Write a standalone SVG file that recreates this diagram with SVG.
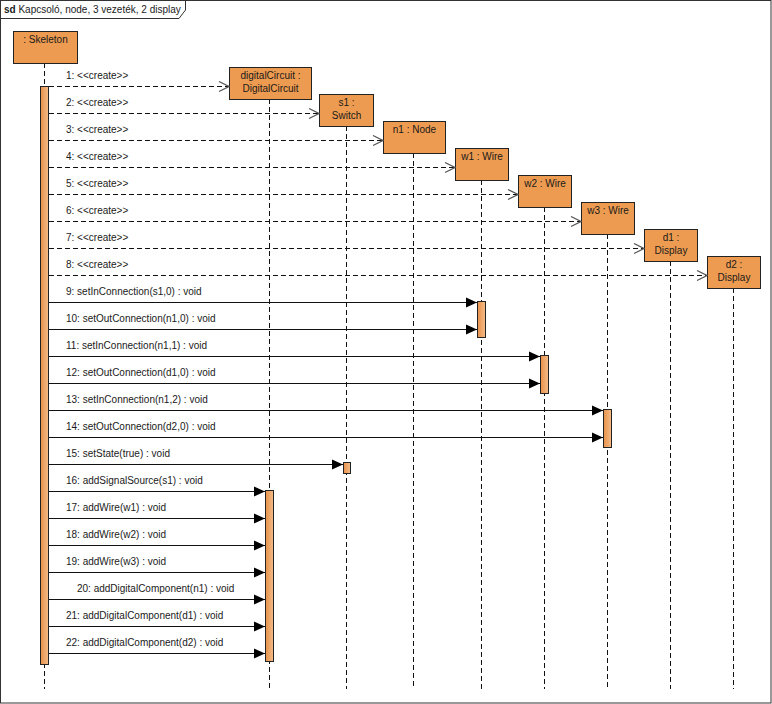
<svg xmlns="http://www.w3.org/2000/svg" width="772" height="704" viewBox="0 0 772 704">
  <style>
    text { font-family: "Liberation Sans", Arial, sans-serif; font-size: 10px; fill: #1a1a1a; }
    .box { fill: #ED9B50; stroke: #222; stroke-width: 1; }
    .bar { fill: url(#barFill); stroke: #222; stroke-width: 1; }
    .life { stroke: #111; stroke-width: 1; stroke-dasharray: 5 3; fill: none; }
    .create { stroke: #111; stroke-width: 1; stroke-dasharray: 5 3; fill: none; marker-end: url(#open); }
    .call { stroke: #111; stroke-width: 1; fill: none; marker-end: url(#filled); }
    .mid { text-anchor: middle; }
  </style>
  <defs>
    <linearGradient id="barFill" x1="0" y1="0" x2="1" y2="0">
      <stop offset="0" stop-color="#E8914A"/>
      <stop offset="1" stop-color="#F4BC88"/>
    </linearGradient>
    <marker id="open" viewBox="0 0 12 12" refX="11" refY="6" markerWidth="12" markerHeight="12" markerUnits="userSpaceOnUse" orient="auto">
      <path d="M1,1 L11,6 L1,11" fill="none" stroke="#555" stroke-width="1.2"/>
    </marker>
    <marker id="filled" viewBox="0 0 12 12" refX="11" refY="6" markerWidth="12" markerHeight="12" markerUnits="userSpaceOnUse" orient="auto">
      <path d="M0,1 L11,6 L0,11 Z" fill="#000"/>
    </marker>
  </defs>

  <rect x="0" y="0" width="772" height="704" fill="#fff"/>

  <!-- interaction frame -->
  <g id="frame">
    <rect x="0.5" y="0.5" width="770.5" height="702.5" fill="none" stroke="#333"/>
    <path d="M0.5,18.5 H179 L185.5,10 V0.5" fill="none" stroke="#333"/>
    <text x="4" y="13" style="font-size:10px"><tspan font-weight="bold">sd</tspan> Kapcsoló, node, 3 vezeték, 2 display</text>
  </g>

  <!-- lifelines -->
  <g id="lifelines">
    <line class="life" x1="44.5" y1="63" x2="44.5" y2="689"/>
    <line class="life" x1="269.5" y1="99" x2="269.5" y2="689"/>
    <line class="life" x1="346.5" y1="126" x2="346.5" y2="689"/>
    <line class="life" x1="413.5" y1="153" x2="413.5" y2="689"/>
    <line class="life" x1="481.5" y1="180" x2="481.5" y2="689"/>
    <line class="life" x1="544.5" y1="207" x2="544.5" y2="689"/>
    <line class="life" x1="607.5" y1="234" x2="607.5" y2="689"/>
    <line class="life" x1="670.5" y1="261" x2="670.5" y2="689"/>
    <line class="life" x1="733.5" y1="288" x2="733.5" y2="689"/>
  </g>

  <!-- participants -->
  <g id="skeleton">
    <rect class="box" x="13.5" y="31.5" width="64" height="32"/>
    <text class="mid" x="45.5" y="43">: Skeleton</text>
  </g>
  <g id="digitalCircuit">
    <rect class="box" x="229.5" y="67.5" width="82" height="32"/>
    <text class="mid" x="270.5" y="79">digitalCircuit :</text>
    <text class="mid" x="270.5" y="91.5">DigitalCircuit</text>
  </g>
  <g id="s1">
    <rect class="box" x="319.5" y="94.5" width="54" height="32"/>
    <text class="mid" x="346.5" y="106">s1 :</text>
    <text class="mid" x="346.5" y="118.5">Switch</text>
  </g>
  <g id="n1">
    <rect class="box" x="383.5" y="121.5" width="62" height="32"/>
    <text class="mid" x="414.5" y="133">n1 : Node</text>
  </g>
  <g id="w1">
    <rect class="box" x="455.5" y="148.5" width="53" height="32"/>
    <text class="mid" x="482" y="160">w1 : Wire</text>
  </g>
  <g id="w2">
    <rect class="box" x="518.5" y="175.5" width="53" height="32"/>
    <text class="mid" x="545" y="187">w2 : Wire</text>
  </g>
  <g id="w3">
    <rect class="box" x="581.5" y="202.5" width="53" height="32"/>
    <text class="mid" x="608" y="214">w3 : Wire</text>
  </g>
  <g id="d1">
    <rect class="box" x="644.5" y="229.5" width="53" height="32"/>
    <text class="mid" x="671" y="241">d1 :</text>
    <text class="mid" x="671" y="253.5">Display</text>
  </g>
  <g id="d2">
    <rect class="box" x="707.5" y="256.5" width="53" height="32"/>
    <text class="mid" x="734" y="268">d2 :</text>
    <text class="mid" x="734" y="280.5">Display</text>
  </g>

  <!-- activation bars -->
  <g id="activations">
    <rect class="bar" x="40.5" y="86.5" width="8" height="578"/>
    <rect class="bar" x="477.5" y="301.5" width="8" height="36"/>
    <rect class="bar" x="540.5" y="355.5" width="8" height="38"/>
    <rect class="bar" x="603.5" y="409.5" width="8" height="38"/>
    <rect class="bar" x="343.5" y="462.5" width="7" height="11"/>
    <rect class="bar" x="265.5" y="490.5" width="8" height="171"/>
  </g>

  <!-- messages -->
  <g id="messages">
    <line class="create" x1="49" y1="86.5" x2="229" y2="86.5"/>
    <line class="create" x1="49" y1="113.5" x2="319" y2="113.5"/>
    <line class="create" x1="49" y1="140.5" x2="383" y2="140.5"/>
    <line class="create" x1="49" y1="167.5" x2="455" y2="167.5"/>
    <line class="create" x1="49" y1="194.5" x2="518" y2="194.5"/>
    <line class="create" x1="49" y1="221.5" x2="581" y2="221.5"/>
    <line class="create" x1="49" y1="248.5" x2="644" y2="248.5"/>
    <line class="create" x1="49" y1="275.5" x2="707" y2="275.5"/>

    <line class="call" x1="49" y1="302.5" x2="477" y2="302.5"/>
    <line class="call" x1="49" y1="329.5" x2="477" y2="329.5"/>
    <line class="call" x1="49" y1="356.5" x2="540" y2="356.5"/>
    <line class="call" x1="49" y1="383.5" x2="540" y2="383.5"/>
    <line class="call" x1="49" y1="410.5" x2="603" y2="410.5"/>
    <line class="call" x1="49" y1="437.5" x2="603" y2="437.5"/>
    <line class="call" x1="49" y1="464.5" x2="343" y2="464.5"/>
    <line class="call" x1="49" y1="491.5" x2="265" y2="491.5"/>
    <line class="call" x1="49" y1="518.5" x2="265" y2="518.5"/>
    <line class="call" x1="49" y1="545.5" x2="265" y2="545.5"/>
    <line class="call" x1="49" y1="572.5" x2="265" y2="572.5"/>
    <line class="call" x1="49" y1="599.5" x2="265" y2="599.5"/>
    <line class="call" x1="49" y1="626.5" x2="265" y2="626.5"/>
    <line class="call" x1="49" y1="653.5" x2="265" y2="653.5"/>
  </g>

  <!-- message labels -->
  <g id="labels">
    <text x="66" y="78.5">1: &lt;&lt;create&gt;&gt;</text>
    <text x="66" y="105.5">2: &lt;&lt;create&gt;&gt;</text>
    <text x="66" y="132.5">3: &lt;&lt;create&gt;&gt;</text>
    <text x="66" y="159.5">4: &lt;&lt;create&gt;&gt;</text>
    <text x="66" y="186.5">5: &lt;&lt;create&gt;&gt;</text>
    <text x="66" y="213.5">6: &lt;&lt;create&gt;&gt;</text>
    <text x="66" y="240.5">7: &lt;&lt;create&gt;&gt;</text>
    <text x="66" y="267.5">8: &lt;&lt;create&gt;&gt;</text>
    <text x="66" y="294.5">9: setInConnection(s1,0) : void</text>
    <text x="66" y="321.5">10: setOutConnection(n1,0) : void</text>
    <text x="66" y="348.5">11: setInConnection(n1,1) : void</text>
    <text x="66" y="375.5">12: setOutConnection(d1,0) : void</text>
    <text x="66" y="402.5">13: setInConnection(n1,2) : void</text>
    <text x="66" y="429.5">14: setOutConnection(d2,0) : void</text>
    <text x="66" y="456.5">15: setState(true) : void</text>
    <text x="66" y="483.5">16: addSignalSource(s1) : void</text>
    <text x="66" y="510.5">17: addWire(w1) : void</text>
    <text x="66" y="537.5">18: addWire(w2) : void</text>
    <text x="66" y="564.5">19: addWire(w3) : void</text>
    <text x="77" y="591.5">20: addDigitalComponent(n1) : void</text>
    <text x="66" y="618.5">21: addDigitalComponent(d1) : void</text>
    <text x="66" y="645.5">22: addDigitalComponent(d2) : void</text>
  </g>
</svg>
